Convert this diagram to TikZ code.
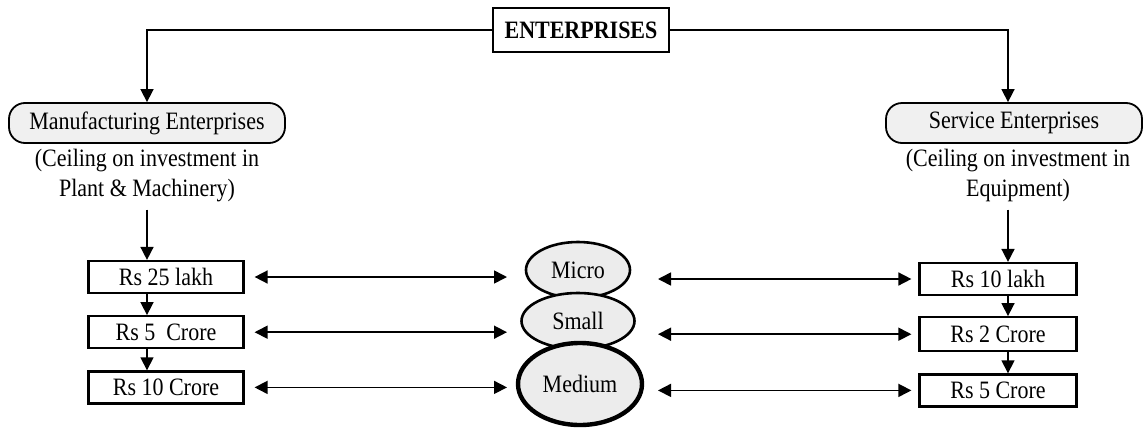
\documentclass[tikz,border=0pt]{standalone}
\usepackage{fontspec}
\setmainfont{Liberation Serif}[FakeStretch=0.88]
\usetikzlibrary{arrows.meta,positioning,shapes.geometric}

\begin{document}
\begin{tikzpicture}[x=0.5pt,y=-0.5pt,>={Triangle[length=6.5pt,width=6.5pt]},
    line width=0.8pt,
    font=\fontsize{12.5}{14}\selectfont,
    topbox/.style={draw,line width=1.2pt,minimum width=88pt,minimum height=22pt,
      font=\fontsize{12.5}{14}\selectfont\bfseries},
    sectorbox/.style={draw,line width=0.9pt,rounded corners=8pt,fill=gray!12,
      minimum height=20pt,inner sep=1pt},
    limitbox/.style={draw,line width=1.1pt,minimum width=77.5pt,minimum height=16pt,inner sep=1pt},
    classnode/.style={draw,ellipse,line width=1.3pt,fill=gray!15,inner sep=0pt},
    note/.style={align=center,font=\fontsize{12.5}{15}\selectfont}]

    \useasboundingbox (0,0) rectangle (1146,429);

    % top and the two sectors
    \node[topbox] (ent) at (581,30) {ENTERPRISES};
    \node[sectorbox,minimum width=138pt] (manu) at (147,123) {Manufacturing Enterprises};
    \node[sectorbox,minimum width=128pt] (serv) at (1014,123) {Service Enterprises};
    \node[note,below=-1pt of manu] (manunote) {(Ceiling on investment in\\Plant \& Machinery)};
    \node[note,below=-1pt of serv,xshift=2pt] (servnote) {(Ceiling on investment in\\Equipment)};

    \draw[->] (ent.west) -| (manu.north);
    \draw[->] (ent.east) -| ([xshift=-3pt]serv.north);

    % ceilings
    \node[limitbox] (l1) at (166,277) {Rs 25 lakh};
    \node[limitbox,below=10.5pt of l1] (l2) {Rs 5~ Crore};
    \node[limitbox,below=10.5pt of l2] (l3) {Rs 10 Crore};

    \node[limitbox,minimum width=78.5pt] (r1) at (998,279) {Rs 10 lakh};
    \node[limitbox,minimum width=78.5pt,minimum height=17pt,below=10pt of r1] (r2) {Rs 2 Crore};
    \node[limitbox,minimum width=78.5pt,below=10.5pt of r2] (r3) {Rs 5 Crore};

    \draw[->] (manunote.south) -- (manunote.south |- l1.north);
    \draw[->] (l1.south -| manunote.south) -- (l2.north -| manunote.south);
    \draw[->] (l2.south -| manunote.south) -- (l3.north -| manunote.south);

    \coordinate (rx) at (1008,0);
    \draw[->] (servnote.south -| rx) -- (r1.north -| rx);
    \draw[->] (r1.south -| rx) -- (r2.north -| rx);
    \draw[->] (r2.south -| rx) -- (r3.north -| rx);

    % enterprise classes
    \node[classnode,minimum width=52pt,minimum height=28pt] (mic) at (578,270) {Micro};
    \node[classnode,minimum width=56.5pt,minimum height=28pt] (sml) at (578,321) {Small};
    \node[classnode,line width=2.2pt,minimum width=62pt,minimum height=41pt] (med) at (580,384) {Medium};

    \coordinate (lend) at (507,0);
    \coordinate (rend) at (658,0);
    \draw[<->] ([xshift=5pt]l1.east) -- (l1.east -| lend);
    \draw[<->] ([xshift=5pt]l2.east) -- (l2.east -| lend);
    \draw[<->] ([xshift=5pt]l3.east) -- (l3.east -| lend);
    \draw[<->] (r1.west -| rend) -- ([xshift=-3.5pt]r1.west);
    \draw[<->] (r2.west -| rend) -- ([xshift=-3.5pt]r2.west);
    \draw[<->] (r3.west -| rend) -- ([xshift=-3.5pt]r3.west);

\end{tikzpicture}
\end{document}
